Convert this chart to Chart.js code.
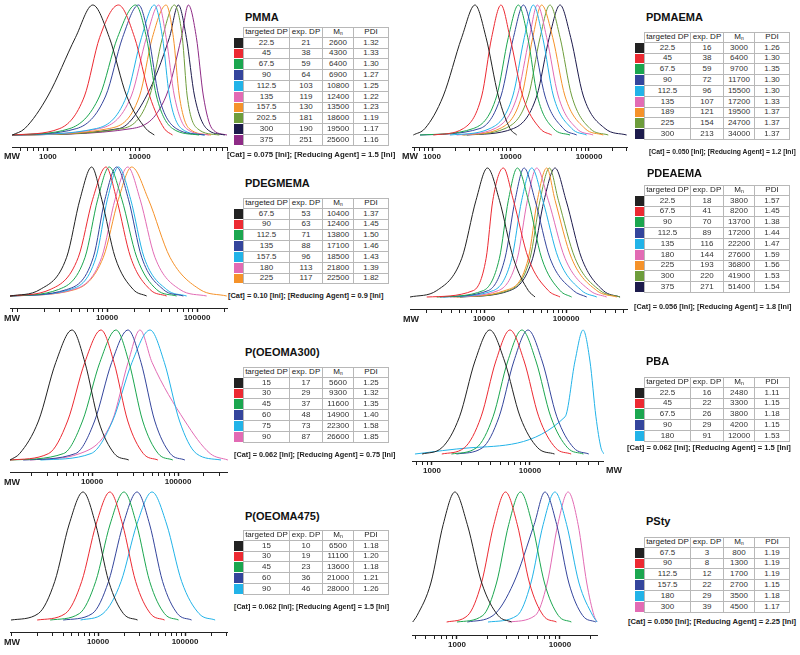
<!DOCTYPE html>
<html>
<head>
<meta charset="utf-8">
<title>GPC traces</title>
<script src="https://cdn.jsdelivr.net/npm/chart.js"></script>
<style>
  body { margin: 0; background: #fff; }
  #page { position: relative; width: 800px; height: 655px; overflow: hidden; font-family: Arial, 'Liberation Sans', sans-serif; }
  canvas { position: absolute; }
  .mw { position: absolute; font-weight: bold; font-size: 9px; line-height: 9px; color: #222; }
  .title { position: absolute; font-weight: bold; font-size: 11px; line-height: 11px; color: #111; white-space: nowrap; }
  .note { position: absolute; font-weight: bold; line-height: 8px; color: #222; white-space: nowrap; }
  table.dp { position: absolute; border-collapse: separate; border-spacing: 0; table-layout: fixed; width: 155px; font-size: 8px; color: #333; }
  table.dp tr { height: 10.8px; }
  table.dp td { padding: 0; line-height: 8px; text-align: center; white-space: nowrap; overflow: hidden;
    border-right: 1px solid #b8b8b8; border-bottom: 1px solid #b8b8b8; }
  table.dp td.first { border-left: 1px solid #b8b8b8; }
  table.dp tr.head td { border-top: 1px solid #b8b8b8; color: #222; }
  table.dp td.sw { border: none; border-bottom: 1px solid #fff; }
  table.dp tr.head td.sw { border-top: 1px solid #fff; }
  sub { font-size: 5px; line-height: 0; vertical-align: -1px; }
</style>
</head>
<body>
<div id="page"></div>
<script>
// Heights at which each trace was read, left tail -> peak -> right tail
const LEVELS = [0, 0.05, 0.3, 0.75, 1, 0.75, 0.3, 0.05, 0];
const COLORS = ['#222222', '#ec2a32', '#1ba64f', '#34459c', '#22b3e8', '#e26bb4', '#f5922a', '#6e9d3c', '#1d1b4c', '#8e2b86'];

// PMMA
const pmmaTraces = [
  [410, 560, 1000, 2000, 3090, 4680, 7240, 11700, 14500],
  [410, 1350, 2510, 3670, 5890, 8830, 12900, 18600, 22900],
  [410, 1740, 3670, 5750, 9060, 11900, 15300, 22900, 44700],
  [410, 2070, 4270, 6530, 9770, 12600, 16200, 25100, 51300],
  [410, 3390, 7240, 10500, 14500, 17800, 21200, 28600, 51300],
  [410, 3670, 8130, 11900, 16200, 19500, 24000, 32400, 57500],
  [410, 4680, 10000, 13800, 19500, 23400, 27200, 34700, 60300],
  [410, 6530, 12900, 17800, 24000, 29300, 33100, 42700, 74100],
  [410, 6030, 11900, 21200, 26500, 32400, 39800, 53700, 85100],
  [410, 8320, 19500, 28600, 34100, 41700, 49700, 61700, 90000],
];
const pmmaTargetDP = ['22.5', '45', '67.5', '90', '112.5', '135', '157.5', '202.5', '300', '375'];
const pmmaExpDP = [21, 38, 59, 64, 103, 119, 130, 181, 190, 251];
const pmmaMn = [2600, 4300, 6400, 6900, 10800, 12400, 13500, 18600, 19500, 25600];
const pmmaPDI = ['1.32', '1.33', '1.30', '1.27', '1.25', '1.22', '1.23', '1.19', '1.17', '1.16'];

// PDMAEMA
const pdmaemaTraces = [
  [578, 813, 1390, 2390, 3530, 4880, 7000, 9860, 12000],
  [1040, 2510, 4300, 5750, 7570, 9860, 14300, 23800, 33500],
  [703, 3360, 6670, 9380, 12600, 16600, 22000, 35200, 57300],
  [703, 4080, 7570, 10900, 14600, 19500, 27500, 47100, 69700],
  [1690, 5480, 10700, 15000, 19500, 25700, 35200, 60300, 93300],
  [2060, 6350, 12200, 17400, 22000, 28900, 40600, 69700, 113000],
  [2390, 7350, 13900, 19200, 24900, 34500, 49400, 88900, 152000],
  [2510, 8510, 16900, 23800, 31800, 42800, 60300, 103000, 176000],
  [2770, 10900, 21600, 31200, 42800, 58500, 84700, 160000, 302000],
];
const pdmaemaTargetDP = ['22.5', '45', '67.5', '90', '112.5', '135', '189', '225', '300'];
const pdmaemaExpDP = [16, 38, 59, 72, 96, 107, 121, 154, 213];
const pdmaemaMn = [3000, 6400, 9700, 11700, 15500, 17200, 19500, 24700, 34000];
const pdmaemaPDI = ['1.26', '1.30', '1.35', '1.30', '1.30', '1.33', '1.37', '1.37', '1.37'];

// PDEGMEMA
const pdegmemaTraces = [
  [836, 1800, 3560, 5010, 6760, 8730, 12300, 19600, 27600],
  [836, 2330, 4800, 6930, 9750, 12800, 18300, 30100, 46000],
  [836, 2880, 5700, 7890, 10600, 14600, 21400, 35600, 59400],
  [836, 3560, 7050, 9500, 12800, 17300, 24300, 42300, 70500],
  [836, 3880, 7550, 10100, 13400, 18300, 25800, 46000, 76700],
  [836, 4230, 8730, 12300, 17000, 23300, 34100, 64700, 128000],
  [836, 4410, 9100, 13400, 18800, 28800, 50100, 108000, 214000],
];
const pdegmemaTargetDP = ['67.5', '90', '112.5', '135', '157.5', '180', '225'];
const pdegmemaExpDP = [53, 63, 71, 88, 96, 113, 117];
const pdegmemaMn = [10400, 12400, 13800, 17100, 18500, 21800, 22500];
const pdegmemaPDI = ['1.37', '1.45', '1.50', '1.46', '1.43', '1.39', '1.82'];

// PDEAEMA
const pdeaemaTraces = [
  [1250, 2650, 5350, 7980, 11000, 15400, 22800, 34700, 41900],
  [2000, 7410, 10600, 12800, 17200, 22800, 34700, 60800, 84500],
  [2650, 9820, 15400, 19800, 25500, 34700, 50500, 84500, 117000],
  [2900, 11300, 18000, 23900, 30800, 41900, 63800, 123000, 179000],
  [3190, 13000, 21800, 28800, 38200, 52000, 80700, 155000, 237000],
  [3850, 15000, 25500, 33800, 43900, 60800, 97200, 196000, 313000],
  [4230, 18000, 34700, 44700, 58100, 73500, 117000, 237000, 415000],
  [4640, 19800, 36400, 48200, 62700, 80700, 129000, 260000, 456000],
  [5090, 20700, 39200, 54000, 73500, 100000, 155000, 285000, 456000],
];
const pdeaemaTargetDP = ['22.5', '67.5', '90', '112.5', '135', '180', '225', '300', '375'];
const pdeaemaExpDP = [18, 41, 70, 89, 116, 144, 193, 220, 271];
const pdeaemaMn = [3800, 8200, 13700, 17200, 22200, 27600, 36800, 41900, 51400];
const pdeaemaPDI = ['1.57', '1.45', '1.38', '1.44', '1.47', '1.59', '1.56', '1.53', '1.54'];

// P(OEOMA300)
const oeoma300Traces = [
  [1110, 1440, 2380, 3780, 5850, 8260, 11900, 18100, 26700],
  [1110, 3130, 5190, 8220, 12700, 18000, 26000, 39400, 58200],
  [1110, 4670, 7740, 12300, 19000, 26900, 38800, 58700, 86900],
  [1580, 6440, 10700, 16900, 26200, 37100, 53600, 81100, 120000],
  [2510, 9750, 17300, 29100, 47200, 69300, 104000, 163000, 316000],
  [1900, 7240, 17100, 26200, 36100, 49900, 120000, 236000, 380000],
];
const oeoma300TargetDP = ['15', '30', '45', '60', '75', '90'];
const oeoma300ExpDP = [17, 29, 37, 48, 73, 87];
const oeoma300Mn = [5600, 9300, 11600, 14900, 22300, 26600];
const oeoma300PDI = ['1.25', '1.32', '1.35', '1.40', '1.58', '1.85'];

// PBA
const pbaTraces = [
  [794, 1260, 1910, 2750, 3890, 5500, 7940, 12000, 17800],
  [1260, 2140, 3170, 4490, 6250, 8710, 12300, 18200, 26300],
  [1580, 2840, 4200, 5940, 8280, 11500, 16300, 24200, 35100],
  [1780, 3270, 4840, 6860, 9550, 13300, 18800, 27900, 39800],
  [671, 2440, 22800, 28800, 34800, 40900, 47100, 53000, 56900],
];
const pbaTargetDP = ['22.5', '45', '67.5', '90', '180'];
const pbaExpDP = [16, 22, 26, 29, 91];
const pbaMn = [2480, 3300, 3800, 4200, 12000];
const pbaPDI = ['1.11', '1.15', '1.18', '1.15', '1.53'];

// P(OEOMA475)
const oeoma475Traces = [
  [1000, 2060, 3180, 4670, 6730, 9380, 13300, 19600, 28500],
  [2000, 4210, 6490, 9530, 13700, 19100, 27100, 40100, 58200],
  [2820, 6100, 9400, 13800, 19900, 27700, 39300, 58100, 84300],
  [3980, 8590, 13200, 19500, 28100, 39100, 55300, 81800, 119000],
  [6310, 11400, 18400, 28000, 41800, 61400, 91600, 145000, 222000],
];
const oeoma475TargetDP = ['15', '30', '45', '60', '90'];
const oeoma475ExpDP = [10, 19, 23, 36, 46];
const oeoma475Mn = [6500, 11100, 13600, 21000, 28000];
const oeoma475PDI = ['1.18', '1.20', '1.18', '1.21', '1.26'];

// PSty
const pstyTraces = [
  [372, 410, 558, 735, 955, 1260, 1740, 2510, 3390],
  [794, 1270, 1730, 2280, 2960, 3850, 5060, 6890, 9250],
  [1000, 1780, 2420, 3180, 4140, 5380, 7080, 9640, 12900],
  [1260, 2240, 3550, 5620, 7140, 9290, 12200, 16600, 22300],
  [2000, 3840, 5220, 6870, 8930, 11600, 15300, 20800, 22900],
  [3160, 5750, 7520, 9530, 12000, 15000, 18200, 21400, 22900],
];
const pstyTargetDP = ['67.5', '90', '112.5', '157.5', '180', '300'];
const pstyExpDP = [3, 8, 12, 22, 29, 39];
const pstyMn = [800, 1300, 1700, 2700, 3500, 4500];
const pstyPDI = ['1.19', '1.19', '1.19', '1.15', '1.18', '1.17'];

// Panel layout: chart box, axis range, labelled ticks and text positions
const PANELS = [
  { name: 'PMMA', traces: pmmaTraces, cols: [pmmaTargetDP, pmmaExpDP, pmmaMn, pmmaPDI],
    note: '[Cat] = 0.075 [Ini]; [Reducing Agent] = 1.5 [Ini]', noteSize: 7.8,
    chart: { left: 12, width: 216, peakY: 5, baseY: 135, axisY: 147, min: 406, max: 90600 }, labels: [1000, 10000],
    mw: [4, 151.5], title: [245, 11.5], table: [234, 27], footer: [227, 151] },
  { name: 'PDMAEMA', traces: pdmaemaTraces, cols: [pdmaemaTargetDP, pdmaemaExpDP, pdmaemaMn, pdmaemaPDI],
    note: '[Cat] = 0.050 [Ini]; [Reducing Agent] = 1.2 [Ini]', noteSize: 6.8,
    chart: { left: 412, width: 216, peakY: 5, baseY: 135, axisY: 147, min: 556, max: 314000 }, labels: [1000, 10000, 100000],
    mw: [402, 151.5], title: [646, 11.5], table: [635, 32], footer: [649, 148] },
  { name: 'PDEGMEMA', traces: pdegmemaTraces, cols: [pdegmemaTargetDP, pdegmemaExpDP, pdegmemaMn, pdegmemaPDI],
    note: '[Cat] = 0.10 [Ini]; [Reducing Agent] = 0.9 [Ini]', noteSize: 7.4,
    chart: { left: 10, width: 218, peakY: 167, baseY: 296, axisY: 308, min: 836, max: 221000 }, labels: [10000, 100000],
    mw: [4, 313.5], title: [245, 177.5], table: [234, 198], footer: [228, 292] },
  { name: 'PDEAEMA', traces: pdeaemaTraces, cols: [pdeaemaTargetDP, pdeaemaExpDP, pdeaemaMn, pdeaemaPDI],
    note: '[Cat] = 0.056 [Ini]; [Reducing Agent] = 1.8 [Ini]', noteSize: 7.3,
    chart: { left: 410, width: 218, peakY: 168, baseY: 297, axisY: 309, min: 1250, max: 570000 }, labels: [10000, 100000],
    mw: [403, 315], title: [647, 167.5], table: [635, 185], footer: [634, 303] },
  { name: 'P(OEOMA300)', traces: oeoma300Traces, cols: [oeoma300TargetDP, oeoma300ExpDP, oeoma300Mn, oeoma300PDI],
    note: '[Cat] = 0.062 [Ini]; [Reducing Agent] = 0.75 [Ini]', noteSize: 7.3,
    chart: { left: 10, width: 218, peakY: 330, baseY: 460, axisY: 472, min: 1110, max: 381000 }, labels: [10000, 100000],
    mw: [4, 477.5], title: [245, 346.5], table: [234, 367], footer: [234, 451] },
  { name: 'PBA', traces: pbaTraces, cols: [pbaTargetDP, pbaExpDP, pbaMn, pbaPDI],
    note: '[Cat] = 0.062 [Ini]; [Reducing Agent] = 1.5 [Ini]', noteSize: 7.6,
    chart: { left: 412, width: 192, peakY: 330, baseY: 454, axisY: 461, min: 626, max: 56900 }, labels: [1000, 10000],
    mw: [606, 465.5], title: [646, 355.5], table: [635, 377], footer: [627, 444] },
  { name: 'P(OEOMA475)', traces: oeoma475Traces, cols: [oeoma475TargetDP, oeoma475ExpDP, oeoma475Mn, oeoma475PDI],
    note: '[Cat] = 0.062 [Ini]; [Reducing Agent] = 1.5 [Ini]', noteSize: 7.2,
    chart: { left: 10, width: 218, peakY: 492, baseY: 620, axisY: 632, min: 975, max: 312000 }, labels: [10000, 100000],
    mw: [4, 637.5], title: [245, 510.5], table: [234, 530], footer: [234, 603] },
  { name: 'PSty', traces: pstyTraces, cols: [pstyTargetDP, pstyExpDP, pstyMn, pstyPDI],
    note: '[Cat] = 0.050 [Ini]; [Reducing Agent] = 2.25 [Ini]', noteSize: 7.6,
    chart: { left: 412, width: 186, peakY: 492, baseY: 622, axisY: 635, min: 366, max: 23400 }, labels: [1000, 10000],
    mw: null, title: [646, 515.5], table: [635, 537], footer: [628, 618] },
];

const page = document.getElementById('page');
const FONT = 'Arial, "Liberation Sans", sans-serif';
const AXIS_H = 14;

// Tick marks at 1..9 x 10^n inside the axis range
function tickValues(min, max) {
  const out = [];
  for (let n = 2; n <= 6; n++) {
    for (let k = 1; k <= 9; k++) {
      const v = k * Math.pow(10, n);
      if (v >= min && v <= max) out.push(v);
    }
  }
  return out;
}

function addText(cls, text, x, y, size) {
  const el = document.createElement('div');
  el.className = cls;
  el.textContent = text;
  el.style.left = x + 'px';
  el.style.top = y + 'px';
  if (size) el.style.fontSize = size + 'px';
  page.appendChild(el);
}

// Create GPC trace chart
function drawChart(p) {
  const c = p.chart;
  const top = c.peakY - 3;
  const span = c.baseY - c.peakY;
  const canvas = document.createElement('canvas');
  canvas.width = c.width;
  canvas.height = c.axisY - top + AXIS_H;
  canvas.style.left = c.left + 'px';
  canvas.style.top = top + 'px';
  page.appendChild(canvas);

  new Chart(canvas, {
    type: 'line',
    data: {
      datasets: p.traces.map((mw, i) => ({
        data: mw.map((x, j) => ({ x, y: LEVELS[j] })),
        borderColor: COLORS[i],
        borderWidth: 1,
        pointRadius: 0,
        fill: false,
        cubicInterpolationMode: 'monotone',
      })),
    },
    options: {
      responsive: false,
      animation: false,
      events: [],
      layout: { padding: 0 },
      plugins: { legend: { display: false }, tooltip: { enabled: false } },
      scales: {
        x: {
          type: 'logarithmic',
          min: c.min,
          max: c.max,
          afterBuildTicks: (scale) => {
            scale.ticks = tickValues(c.min, c.max).map((v) => ({ value: v }));
          },
          afterFit: (scale) => { scale.height = AXIS_H; },
          border: { display: true, color: '#222', width: 1 },
          grid: {
            drawOnChartArea: false,
            drawTicks: true,
            tickLength: 4,
            color: '#222',
            tickWidth: (ctx) => (ctx.tick && p.labels.includes(ctx.tick.value) ? 1.4 : 1),
          },
          ticks: {
            autoSkip: false,
            maxRotation: 0,
            minRotation: 0,
            padding: 1,
            color: '#222',
            font: { family: FONT, size: 8, weight: 'bold' },
            callback: (v) => (p.labels.includes(v) ? String(v) : ''),
          },
        },
        y: {
          display: false,
          min: -(c.axisY - c.baseY) / span,
          max: 1 + 3 / span,
        },
      },
    },
  });
}

// Create the DP / Mn / PDI table with colour swatches
function drawTable(p) {
  const t = document.createElement('table');
  t.className = 'dp';
  t.style.left = p.table[0] + 'px';
  t.style.top = p.table[1] + 'px';
  let html = '<colgroup><col style="width:9px"><col style="width:47px"><col style="width:33px"><col style="width:31px"><col style="width:35px"></colgroup>';
  html += '<tr class="head"><td class="sw"></td><td class="first">targeted DP</td><td>exp. DP</td><td>M<sub>n</sub></td><td>PDI</td></tr>';
  const [target, exp, mn, pdi] = p.cols;
  target.forEach((dp, i) => {
    html += `<tr><td class="sw" style="background:${COLORS[i]}"></td><td class="first">${dp}</td><td>${exp[i]}</td><td>${mn[i]}</td><td>${pdi[i]}</td></tr>`;
  });
  t.innerHTML = html;
  page.appendChild(t);
}

PANELS.forEach((p) => {
  drawChart(p);
  if (p.mw) addText('mw', 'MW', p.mw[0], p.mw[1]);
  addText('title', p.name, p.title[0], p.title[1]);
  drawTable(p);
  addText('note', p.note, p.footer[0], p.footer[1], p.noteSize);
});
</script>
</body>
</html>
